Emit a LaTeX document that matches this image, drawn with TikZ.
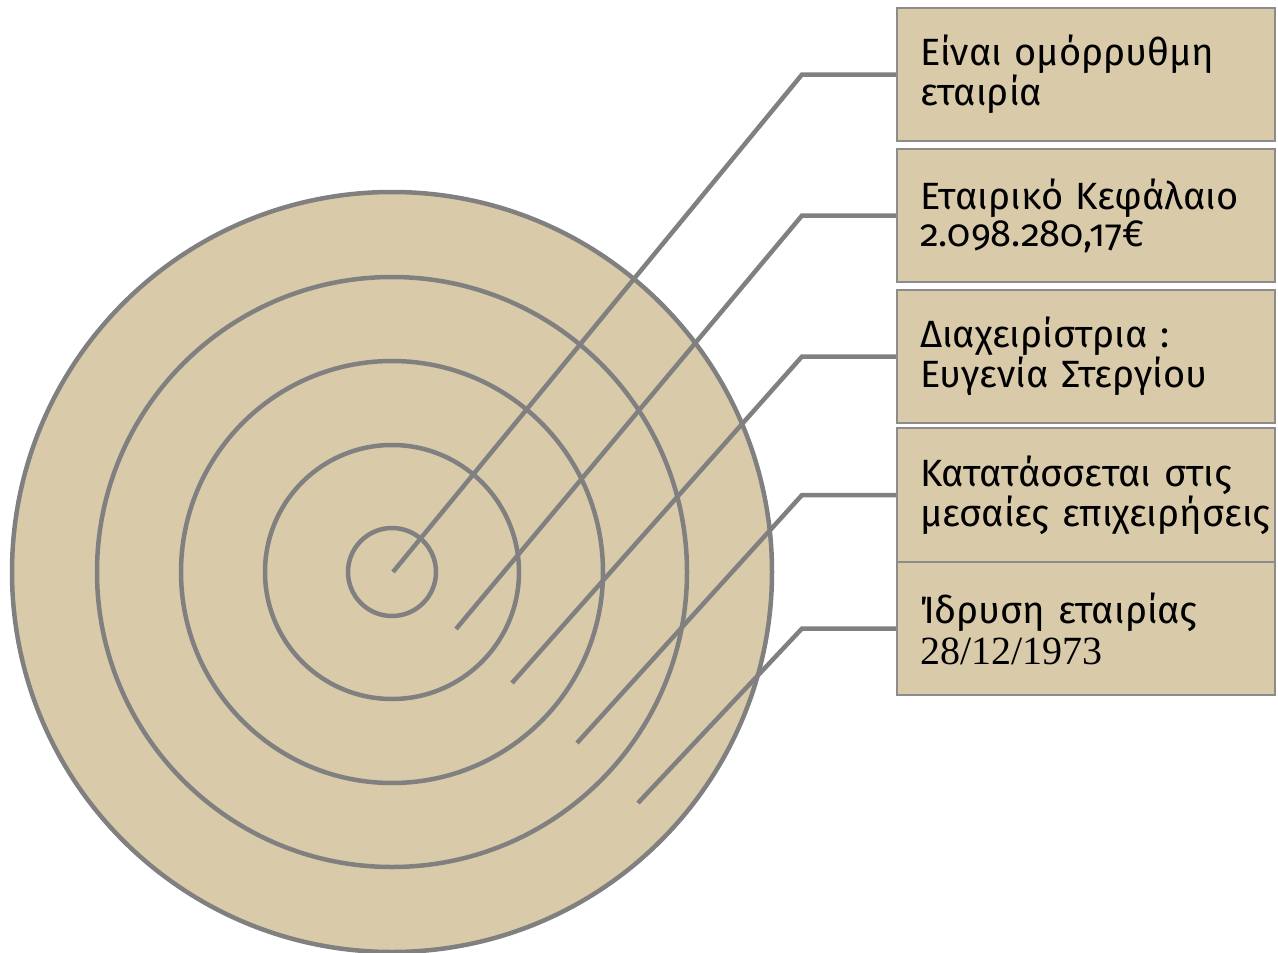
\documentclass[tikz,border=0pt]{standalone}
\usepackage{fontspec}
\newfontfamily\boxfont[Numbers=OldStyle, WordSpace=0.55]{Fira Sans}
\newfontfamily\datefont{Liberation Serif}
\definecolor{tan}{RGB}{217,203,170}
\definecolor{ringgray}{RGB}{128,128,128}
\definecolor{boxgray}{RGB}{140,140,140}
\tikzset{
  ring/.style={draw=ringgray, line width=4.5pt},
  lead/.style={draw=ringgray, line width=4.5pt},
  infobox/.style={draw=boxgray, line width=2pt, fill=tan, anchor=north west,
    minimum width=378pt, minimum height=133pt, text width=332pt,
    inner xsep=23pt, inner ysep=0pt, align=left,
    font=\boxfont\fontsize{38}{37}\selectfont}
}
\begin{document}
\begin{tikzpicture}[x=1pt, y=-1pt]
        \useasboundingbox (0,0) rectangle (1278,953);

        % --- CERCHI ---
        \coordinate (c) at (392,572);
        \fill[tan] (c) circle (380);
        \draw[ring] (c) circle (380);
        \foreach \r in {295,211,127,44}
            \draw[ring] (c) circle (\r);

        % --- RIQUADRI ---
        \node[infobox] (b1) at (896,7) {Είναι ομόρρυθμη\\εταιρία};
        \node[infobox] (b2) at (896,148) {Εταιρικό Κεφάλαιο\\2.098.280,17€};
        \node[infobox] (b3) at (896,289) {Διαχειρίστρια :\\Ευγενία Στεργίου};
        \node[infobox, minimum height=134pt] (b4) at (896,427) {Κατατάσσεται στις\\\mbox{μεσαίες επιχειρήσεις}};
        \node[infobox] (b5) at (896,561) {Ίδρυση εταιρίας\\[4pt]{\datefont\fontsize{40}{40}\selectfont 28/12/1973}};

        % --- LINEE ---
        \coordinate (ex) at (802,0);
        \coordinate (s1) at (393,572);
        \coordinate (s2) at (456,629);
        \coordinate (s3) at (512,683);
        \coordinate (s4) at (577,743);
        \coordinate (s5) at (638,803);
        \foreach \i in {1,...,5}
            \draw[lead] (s\i) -- (ex |- b\i.west) -- (b\i.west);

    \end{tikzpicture}
\end{document}
